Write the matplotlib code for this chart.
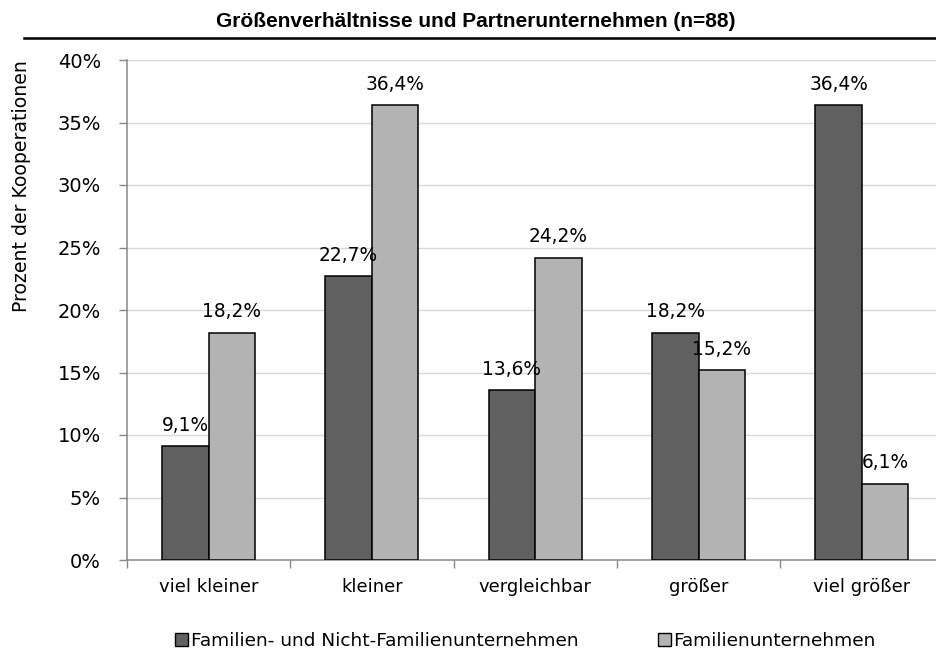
import numpy as np
import matplotlib
matplotlib.use('Agg')
import matplotlib.pyplot as plt
from matplotlib.lines import Line2D

plt.rcParams['font.family'] = ['DejaVu Sans']

categories = ['viel kleiner', 'kleiner', 'vergleichbar', 'größer', 'viel größer']
series_names = ['Familien- und Nicht-Familienunternehmen', 'Familienunternehmen']
alle = [9.1, 22.7, 13.6, 18.2, 36.4]
familie = [18.2, 36.4, 24.2, 15.2, 6.1]
y_ticks = [0, 5, 10, 15, 20, 25, 30, 35, 40]
title = 'Größenverhältnisse und Partnerunternehmen (n=88)'
ylabel = 'Prozent der Kooperationen'

dark = '#606060'
light = '#b3b3b3'

fig = plt.figure(figsize=(9.36, 6.52), dpi=100)
ax = fig.add_axes([127/936, 1 - 560/652, 816.5/936, 500/652])

x = np.arange(len(categories))
w = 0.285
b1 = ax.bar(x - w/2, alle, w, color=dark, edgecolor='black', linewidth=1.1, zorder=3)
b2 = ax.bar(x + w/2, familie, w, color=light, edgecolor='black', linewidth=1.1, zorder=3)

def fmt(v):
    return f'{v:.1f}%'.replace('.', ',')

for bars, vals in ((b1, alle), (b2, familie)):
    for r, v in zip(bars, vals):
        ax.annotate(fmt(v), (r.get_x() + r.get_width()/2, v), xytext=(0, 11),
                    textcoords='offset points', ha='center', va='baseline', fontsize=13.4)

ax.set_xlim(-0.5, len(categories) - 0.5)
ax.set_ylim(0, 40)
ax.set_yticks(y_ticks)
ax.set_yticklabels([f'{t}%' for t in y_ticks], fontsize=14)
ax.set_xticks(x)
ax.set_xticklabels(categories, fontsize=13)
ax.set_xticks(np.arange(len(categories) + 1) - 0.5, minor=True)
ax.tick_params(axis='x', which='major', length=0, pad=13)
ax.tick_params(axis='x', which='minor', length=5.5, color='#888888', width=1)
ax.tick_params(axis='y', length=5.8, color='#888888', width=1, pad=13)

ax.yaxis.grid(True, color='#d9d9d9', linewidth=1.0, zorder=0)
ax.set_axisbelow(True)
for s in ('top', 'right'):
    ax.spines[s].set_visible(False)
for s in ('left', 'bottom'):
    ax.spines[s].set_color('#888888')
    ax.spines[s].set_linewidth(1.1)

fig.text(22/936, 1 - 186/652, ylabel, rotation=90, ha='center', va='center', fontsize=13.6)
fig.text(476/936, 1 - 27/652, title, ha='center', va='baseline', fontsize=15,
         fontweight='bold', family='Liberation Sans')
fig.add_artist(Line2D([24/936, 1], [1 - 38/652, 1 - 38/652], color='black', linewidth=1.8))

handles = [plt.Rectangle((0, 0), 1, 1, facecolor=dark, edgecolor='black'),
           plt.Rectangle((0, 0), 1, 1, facecolor=light, edgecolor='black')]
fig.legend(handles, series_names, loc='center left', bbox_to_anchor=(175/936, 1 - 641/652),
           ncol=2, frameon=False, fontsize=13.3, handlelength=0.7, handleheight=0.7,
           handletextpad=0.15, columnspacing=4.3, borderpad=0, borderaxespad=0)

fig.savefig('out.png', dpi=100)
